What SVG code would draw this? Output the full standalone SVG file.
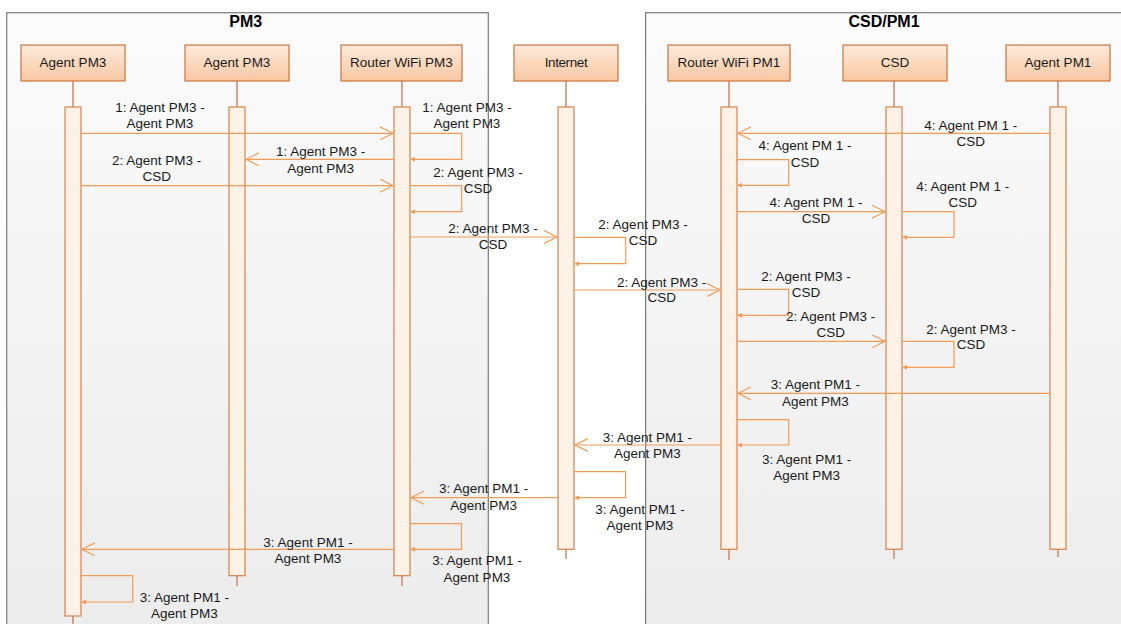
<svg xmlns="http://www.w3.org/2000/svg" width="1121" height="624" viewBox="0 0 1121 624">
<defs>
<linearGradient id="frameFill" x1="0" y1="0" x2="0" y2="1">
<stop offset="0" stop-color="#fbfbfc"/>
<stop offset="1" stop-color="#ececec"/>
</linearGradient>
<linearGradient id="headFill" x1="0" y1="0" x2="0" y2="1">
<stop offset="0" stop-color="#fdeadc"/>
<stop offset="1" stop-color="#f8c7a1"/>
</linearGradient>
<marker id="open" viewBox="0 0 14 14" refX="13" refY="7" markerWidth="14" markerHeight="14" markerUnits="userSpaceOnUse" orient="auto">
<path d="M0,0.5 L13,7 L0,13.5" fill="none" stroke="#f39b55" stroke-width="1.2"/>
</marker>
<marker id="small" viewBox="0 0 6 6" refX="5" refY="3" markerWidth="5" markerHeight="5" markerUnits="userSpaceOnUse" orient="auto">
<path d="M0,0 L6,3 L0,6 Z" fill="#f39b55"/>
</marker>
</defs>
<style>
.frame{fill:url(#frameFill);stroke:#7a7a7a;stroke-width:1.2}
.ftitle{font-family:"Liberation Sans",Arial,sans-serif;font-size:16px;font-weight:bold;fill:#000;text-anchor:middle}
.head{fill:url(#headFill);stroke:#c8743f;stroke-width:1.2}
.htxt{font-family:"Liberation Sans",Arial,sans-serif;font-size:13.5px;fill:#1a1a1a;text-anchor:middle}
.life{stroke:#c48a6c;stroke-width:1.5}
.act{fill:#fdf2e8;stroke:#d7804a;stroke-width:1.2}
.msg{fill:none;stroke:#f39b55;stroke-width:1.2}
.call{marker-end:url(#open)}
.ret{marker-end:url(#small)}
.lbl{font-family:"Liberation Sans",Arial,sans-serif;font-size:13.5px;fill:#1a1a1a;text-anchor:middle}
</style>
<rect width="1121" height="624" fill="#ffffff"/>
<g id="frame-pm3">
<rect class="frame" x="6.7" y="12.7" width="481.6" height="630"/>
<text class="ftitle" x="245.8" y="27">PM3</text>
</g>
<g id="frame-csd-pm1">
<rect class="frame" x="645.6" y="12.7" width="490" height="630"/>
<text class="ftitle" x="884" y="27">CSD/PM1</text>
</g>
<g id="node-agent-pm3-a">
<line class="life" x1="73" y1="81" x2="73" y2="624"/>
<rect class="head" x="21" y="45" width="104" height="36"/>
<text class="htxt" x="73" y="66.5">Agent PM3</text>
<rect class="act" x="65" y="107" width="16" height="509"/>
</g>
<g id="node-agent-pm3-b">
<line class="life" x1="237" y1="81" x2="237" y2="586"/>
<rect class="head" x="185" y="45" width="104" height="36"/>
<text class="htxt" x="237" y="66.5">Agent PM3</text>
<rect class="act" x="229" y="107" width="16" height="468.7"/>
</g>
<g id="node-router-pm3">
<line class="life" x1="402" y1="81" x2="402" y2="586"/>
<rect class="head" x="341" y="45" width="121" height="36"/>
<text class="htxt" x="401.5" y="66.5">Router WiFi PM3</text>
<rect class="act" x="394" y="107" width="16" height="468.7"/>
</g>
<g id="node-internet">
<line class="life" x1="566" y1="81" x2="566" y2="559"/>
<rect class="head" x="514" y="45" width="104" height="36"/>
<text class="htxt" x="566" y="66.5" style="letter-spacing:-0.4px">Internet</text>
<rect class="act" x="558" y="107" width="16" height="442.3"/>
</g>
<g id="node-router-pm1">
<line class="life" x1="729" y1="81" x2="729" y2="560"/>
<rect class="head" x="668" y="45" width="122" height="36"/>
<text class="htxt" x="729" y="66.5">Router WiFi PM1</text>
<rect class="act" x="721" y="107" width="16" height="442.3"/>
</g>
<g id="node-csd">
<line class="life" x1="894" y1="81" x2="894" y2="559"/>
<rect class="head" x="843" y="45" width="104" height="36"/>
<text class="htxt" x="895" y="66.5">CSD</text>
<rect class="act" x="886" y="107" width="16" height="442.3"/>
</g>
<g id="node-agent-pm1">
<line class="life" x1="1058" y1="81" x2="1058" y2="557"/>
<rect class="head" x="1006" y="45" width="104" height="36"/>
<text class="htxt" x="1058" y="66.5">Agent PM1</text>
<rect class="act" x="1050" y="107" width="16" height="442.3"/>
</g>
<g id="connectors">
<path class="msg call" d="M81,133.3 H393"/>
<path class="msg ret" d="M410,133.3 H461.7 V159.3 H411"/>
<path class="msg call" d="M394,159.3 H246"/>
<path class="msg call" d="M81,185.7 H393"/>
<path class="msg ret" d="M410,185.7 H461.7 V211.7 H411"/>
<path class="msg call" d="M410,237 H557"/>
<path class="msg ret" d="M574,237.3 H625.7 V263.7 H575"/>
<path class="msg call" d="M574,290 H720"/>
<path class="msg call" d="M1050,133.3 H738"/>
<path class="msg ret" d="M737,159.7 H788.7 V185.3 H738"/>
<path class="msg call" d="M737,211.7 H885"/>
<path class="msg ret" d="M902,211.7 H954 V237.3 H903"/>
<path class="msg ret" d="M737,289.3 H788.7 V315.3 H738"/>
<path class="msg call" d="M737,341.3 H885"/>
<path class="msg ret" d="M902,341.3 H954 V367.3 H903"/>
<path class="msg call" d="M1050,393.3 H738"/>
<path class="msg ret" d="M737,419.7 H788.7 V445 H738"/>
<path class="msg call" d="M721,445 H575"/>
<path class="msg ret" d="M574,471.7 H625.6 V497.7 H575"/>
<path class="msg call" d="M558,497.7 H411"/>
<path class="msg ret" d="M410,523.7 H461.5 V549.3 H411"/>
<path class="msg call" d="M394,549.3 H82"/>
<path class="msg ret" d="M81,575.7 H132.7 V602 H82"/>
</g>
<g id="labels">
<text class="lbl" x="160" y="112">1: Agent PM3 -</text><text class="lbl" x="160" y="128">Agent PM3</text>
<text class="lbl" x="467" y="112">1: Agent PM3 -</text><text class="lbl" x="467" y="128">Agent PM3</text>
<text class="lbl" x="320.7" y="156">1: Agent PM3 -</text><text class="lbl" x="320.7" y="172.7">Agent PM3</text>
<text class="lbl" x="156.7" y="165">2: Agent PM3 -</text><text class="lbl" x="156.7" y="181">CSD</text>
<text class="lbl" x="478" y="177">2: Agent PM3 -</text><text class="lbl" x="478" y="193">CSD</text>
<text class="lbl" x="493" y="232.7">2: Agent PM3 -</text><text class="lbl" x="493" y="249">CSD</text>
<text class="lbl" x="643" y="229">2: Agent PM3 -</text><text class="lbl" x="643" y="245">CSD</text>
<text class="lbl" x="661.7" y="286.7">2: Agent PM3 -</text><text class="lbl" x="661.7" y="301.7">CSD</text>
<text class="lbl" x="970.7" y="130">4: Agent PM 1 -</text><text class="lbl" x="970.7" y="146">CSD</text>
<text class="lbl" x="805" y="150">4: Agent PM 1 -</text><text class="lbl" x="805" y="166.7">CSD</text>
<text class="lbl" x="816" y="206.7">4: Agent PM 1 -</text><text class="lbl" x="816" y="222.7">CSD</text>
<text class="lbl" x="962.7" y="191">4: Agent PM 1 -</text><text class="lbl" x="962.7" y="207">CSD</text>
<text class="lbl" x="806" y="280.7">2: Agent PM3 -</text><text class="lbl" x="806" y="296.7">CSD</text>
<text class="lbl" x="830.7" y="321">2: Agent PM3 -</text><text class="lbl" x="830.7" y="337.3">CSD</text>
<text class="lbl" x="971" y="334">2: Agent PM3 -</text><text class="lbl" x="971" y="349.3">CSD</text>
<text class="lbl" x="815.3" y="389">3: Agent PM1 -</text><text class="lbl" x="815.3" y="405.7">Agent PM3</text>
<text class="lbl" x="806.7" y="464">3: Agent PM1 -</text><text class="lbl" x="806.7" y="480">Agent PM3</text>
<text class="lbl" x="647.3" y="441.7">3: Agent PM1 -</text><text class="lbl" x="647.3" y="458">Agent PM3</text>
<text class="lbl" x="640" y="514.3">3: Agent PM1 -</text><text class="lbl" x="640" y="530">Agent PM3</text>
<text class="lbl" x="483.6" y="493.3">3: Agent PM1 -</text><text class="lbl" x="483.6" y="510">Agent PM3</text>
<text class="lbl" x="477" y="565">3: Agent PM1 -</text><text class="lbl" x="477" y="581.7">Agent PM3</text>
<text class="lbl" x="308" y="546.7">3: Agent PM1 -</text><text class="lbl" x="308" y="562.7">Agent PM3</text>
<text class="lbl" x="184.4" y="601.7">3: Agent PM1 -</text><text class="lbl" x="184.4" y="617.7">Agent PM3</text>
</g>
</svg>
